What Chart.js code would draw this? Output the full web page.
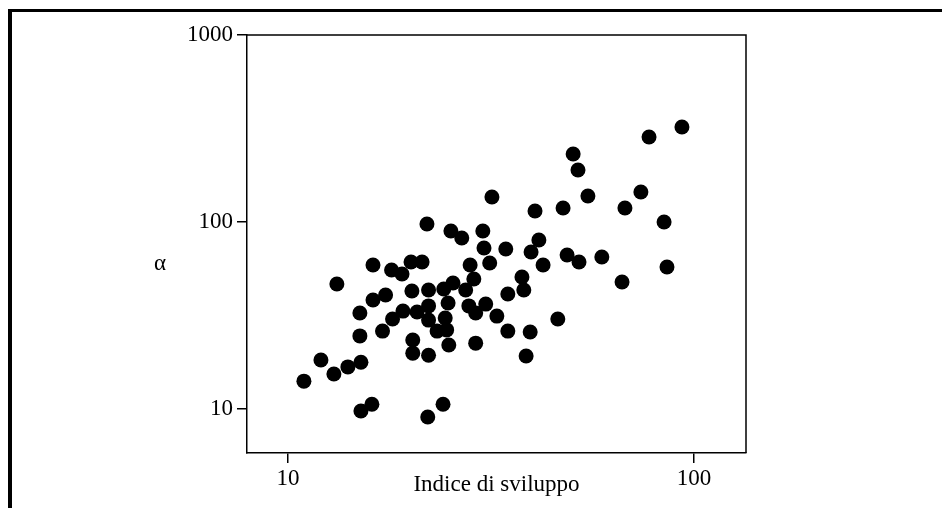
<!DOCTYPE html>
<html lang="it">
<head>
    <meta charset="UTF-8">
    <script src="https://cdn.jsdelivr.net/npm/chart.js"></script>
    <title>Indice di sviluppo</title>
    <style>
        body { margin: 0; background: #fff; }
        .cornice { position: absolute; left: 8px; top: 9px; width: 940px; height: 510px;
                   border-left: 4px solid #000; border-top: 3px solid #000; }
        canvas { position: absolute; left: 0; top: 0; }
    </style>
</head>
<body>
    <div class="cornice"></div>
    <canvas id="grafico" width="942" height="508"></canvas>

    <script>
        // indice di sviluppo (asse x) e alfa (asse y)
        var indice = [10.95, 12.06, 12.98, 14.05, 13.2, 15.13, 15.04, 15.04, 15.13, 16.1,
                      16.2, 16.2, 17.1, 17.4, 18.0, 18.1, 19.1, 19.2, 20.1, 20.2,
                      20.3, 20.3, 20.8, 21.4, 22.0, 22.2, 22.2, 22.2, 22.2, 22.1,
                      23.3, 24.1, 24.2, 24.6, 24.4, 24.8, 24.9, 25.2, 25.5, 26.8,
                      27.4, 28.1, 27.9, 28.7, 29.0, 29.0, 30.2, 30.4, 30.7, 31.4,
                      31.8, 32.7, 34.4, 34.8, 34.8, 37.7, 38.1, 38.6, 39.5, 39.7,
                      40.6, 41.5, 42.5, 46.2, 47.6, 48.7, 50.4, 51.8, 52.1, 54.8,
                      59.3, 66.5, 67.6, 74.0, 77.5, 84.4, 85.8, 93.4];
        var alfa = [14.1, 18.3, 15.4, 16.8, 46.6, 17.8, 24.6, 32.6, 9.76, 10.6,
                    58.9, 38.3, 26.1, 40.7, 55.4, 30.3, 52.7, 33.4, 61.1, 42.8,
                    23.4, 19.9, 33.0, 61.1, 97.6, 43.3, 35.6, 29.9, 19.4, 9.06,
                    26.1, 10.6, 43.8, 26.5, 30.7, 36.9, 22.0, 89.5, 47.2, 82.1,
                    43.3, 58.9, 35.6, 49.6, 32.6, 22.5, 89.5, 72.6, 36.4, 60.4,
                    136, 31.4, 71.7, 41.2, 26.1, 50.8, 43.3, 19.2, 25.8, 69.1,
                    114.5, 80.1, 58.9, 30.3, 118.8, 66.6, 231, 189.7, 61.1, 137.7,
                    65.0, 47.8, 118.8, 144.7, 284.8, 100, 57.5, 322];
        var tickX = [10, 100];
        var tickY = [10, 100, 1000];

        var punti = indice.map(function(v, i) { return { x: v, y: alfa[i] }; });
        var font = { family: "'Liberation Serif', 'DejaVu Serif', serif", size: 23 };

        // bordo superiore e destro del riquadro + etichetta alfa
        var riquadro = {
            id: 'riquadro',
            afterDraw: function(chart) {
                var ctx = chart.ctx, a = chart.chartArea;
                ctx.save();
                ctx.strokeStyle = '#000';
                ctx.lineWidth = 1.5;
                ctx.beginPath();
                ctx.moveTo(a.left, a.top);
                ctx.lineTo(a.right, a.top);
                ctx.lineTo(a.right, a.bottom);
                ctx.stroke();
                ctx.fillStyle = '#000';
                ctx.font = font.size + 'px ' + font.family;
                ctx.textAlign = 'center';
                ctx.textBaseline = 'middle';
                ctx.fillText('α', 160, 264);
                ctx.restore();
            }
        };

        new Chart(document.getElementById('grafico'), {
            type: 'scatter',
            data: {
                datasets: [{
                    data: punti,
                    backgroundColor: '#000',
                    borderWidth: 0,
                    pointRadius: 7.5
                }]
            },
            options: {
                responsive: false,
                animation: false,
                layout: { padding: { top: 35, right: 196, bottom: 9, left: 0 } },
                plugins: { legend: { display: false }, tooltip: { enabled: false } },
                scales: {
                    x: {
                        type: 'logarithmic',
                        min: 7.93,
                        max: 134.3,
                        afterFit: function(s) { s.height = 46; },
                        afterBuildTicks: function(s) { s.ticks = tickX.map(function(v) { return { value: v }; }); },
                        grid: { drawOnChartArea: false, color: '#000', lineWidth: 1.5, tickLength: 10 },
                        border: { color: '#000', width: 1.5 },
                        ticks: { color: '#000', font: font, padding: 2, maxRotation: 0,
                                 callback: function(v) { return String(v); } },
                        title: { display: true, text: 'Indice di sviluppo', color: '#000', font: font,
                                 padding: { top: 0, bottom: 0 } }
                    },
                    y: {
                        type: 'logarithmic',
                        min: 5.82,
                        max: 1000,
                        afterFit: function(s) { s.width = 247; },
                        afterBuildTicks: function(s) { s.ticks = tickY.map(function(v) { return { value: v }; }); },
                        grid: { drawOnChartArea: false, color: '#000', lineWidth: 1.5, tickLength: 10 },
                        border: { color: '#000', width: 1.5 },
                        ticks: { color: '#000', font: font, padding: 4,
                                 callback: function(v) { return String(v); } }
                    }
                }
            },
            plugins: [riquadro]
        });
    </script>
</body>
</html>
